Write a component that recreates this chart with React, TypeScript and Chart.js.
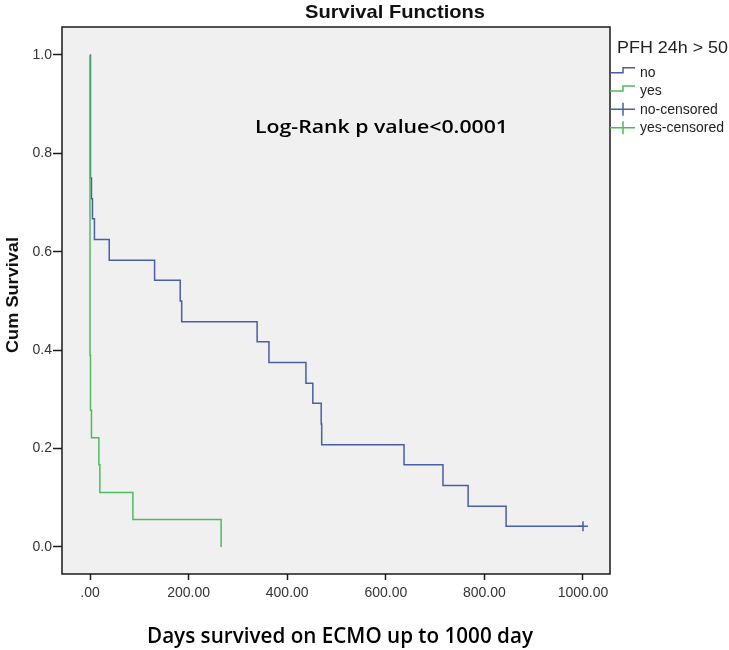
import React, { useEffect, useRef } from "react";
import { Chart, registerables } from "chart.js";

Chart.register(...registerables);

// Kaplan-Meier step data (event day, survival after that day)
const noDays = [0, 1, 3, 5, 9, 39, 131, 183, 186, 339, 363, 438, 452, 469, 470, 637, 716, 767, 844, 1000];
const noSurv = [1, 0.75, 0.708, 0.667, 0.625, 0.583, 0.542, 0.5, 0.458, 0.417, 0.375, 0.333, 0.292, 0.25, 0.208, 0.167, 0.125, 0.083, 0.042, 0.042];
const yesDays = [0, 0, 1, 3, 18, 20, 87, 266];
const yesSurv = [1, 0.389, 0.278, 0.222, 0.167, 0.111, 0.056, 0];
const noCensoredDays = [1000];
const noCensoredSurv = [0.042];

const xTicks = [0, 200, 400, 600, 800, 1000];
const xTickLabels = [".00", "200.00", "400.00", "600.00", "800.00", "1000.00"];
const yTicks = [0, 0.2, 0.4, 0.6, 0.8, 1.0];
const yTickLabels = ["0.0", "0.2", "0.4", "0.6", "0.8", "1.0"];

const legendTitle = "PFH 24h > 50";
const legendLabels = ["no", "yes", "no-censored", "yes-censored"];

const BLUE = "#4b5ca8";
const GREEN = "#4dbb5f";

function fitText(ctx: CanvasRenderingContext2D, text: string, x: number, y: number, width: number, align: "left" | "center") {
  const w = ctx.measureText(text).width;
  const s = width / w;
  ctx.save();
  ctx.translate(x, y);
  ctx.scale(s, 1);
  ctx.textAlign = align;
  ctx.fillText(text, 0, 0);
  ctx.restore();
}

const decorPlugin = {
  id: "decor",
  beforeDraw(chart: any) {
    const { ctx, chartArea } = chart;
    ctx.save();
    ctx.fillStyle = "#ffffff";
    ctx.fillRect(0, 0, chart.width, chart.height);
    ctx.fillStyle = "#f0f0f0";
    ctx.fillRect(chartArea.left, chartArea.top, chartArea.right - chartArea.left, chartArea.bottom - chartArea.top);
    ctx.restore();
  },
  afterDraw(chart: any) {
    const { ctx, chartArea } = chart;
    ctx.save();
    // plot border
    ctx.strokeStyle = "#1a1a1a";
    ctx.lineWidth = 1.5;
    ctx.strokeRect(chartArea.left, chartArea.top, chartArea.right - chartArea.left, chartArea.bottom - chartArea.top);

    ctx.fillStyle = "#111111";
    ctx.textBaseline = "alphabetic";
    // title
    ctx.font = "bold 19px 'Liberation Sans', Arial, sans-serif";
    fitText(ctx, "Survival Functions", 395, 18, 180, "center");

    // y title
    ctx.save();
    ctx.translate(18, 295);
    ctx.rotate(-Math.PI / 2);
    ctx.font = "bold 17px 'Liberation Sans', Arial, sans-serif";
    fitText(ctx, "Cum Survival", 0, 0, 116, "center");
    ctx.restore();

    // x title
    ctx.fillStyle = "#000000";
    ctx.font = "600 22px 'Open Sans', Lato, sans-serif";
    fitText(ctx, "Days survived on ECMO up to 1000 day", 340, 643, 386, "center");

    // annotation
    ctx.font = "600 18px 'Open Sans', Lato, sans-serif";
    fitText(ctx, "Log-Rank p value<0.0001", 381.5, 133, 253, "center");

    // legend
    ctx.font = "16px 'Liberation Sans', Arial, sans-serif";
    ctx.fillStyle = "#222222";
    fitText(ctx, legendTitle, 617, 53, 111, "left");
    ctx.font = "14px 'Liberation Sans', Arial, sans-serif";
    const baselines = [76.7, 95, 113.5, 132];
    const colors = [BLUE, GREEN, BLUE, GREEN];
    legendLabels.forEach((lab, i) => {
      ctx.fillStyle = "#222222";
      ctx.textAlign = "left";
      ctx.fillText(lab, 640, baselines[i]);
      ctx.strokeStyle = colors[i];
      ctx.lineWidth = 1.5;
      ctx.beginPath();
      if (i < 2) {
        const low = baselines[i] - 4;
        const high = low - 5;
        ctx.moveTo(610, low);
        ctx.lineTo(623, low);
        ctx.lineTo(623, high);
        ctx.lineTo(635, high);
      } else {
        const yy = baselines[i] - 4.2;
        ctx.moveTo(610, yy);
        ctx.lineTo(635, yy);
        ctx.moveTo(623, yy - 6.5);
        ctx.lineTo(623, yy + 6.5);
      }
      ctx.stroke();
    });
    ctx.restore();
  },
};

export default function App() {
  const ref = useRef<HTMLCanvasElement | null>(null);

  useEffect(() => {
    if (!ref.current) return;
    const chart = new Chart(ref.current, {
      type: "line",
      data: {
        datasets: [
          {
            label: "yes",
            data: yesDays.map((d, i) => ({ x: d, y: yesSurv[i] })),
            borderColor: GREEN,
            borderWidth: 1.5,
            stepped: "before",
            pointRadius: 0,
            fill: false,
            order: 0,
          },
          {
            label: "no-censored",
            data: noCensoredDays.map((d, i) => ({ x: d, y: noCensoredSurv[i] })),
            borderColor: BLUE,
            borderWidth: 1.5,
            showLine: false,
            pointStyle: "cross",
            pointRadius: 5,
            pointBorderColor: BLUE,
            pointBorderWidth: 1.5,
            order: 1,
          },
          {
            label: "no",
            data: noDays.map((d, i) => ({ x: d, y: noSurv[i] })),
            borderColor: BLUE,
            borderWidth: 1.5,
            stepped: "before",
            pointRadius: 0,
            fill: false,
            order: 2,
          },
        ],
      },
      options: {
        animation: false,
        responsive: false,
        layout: { padding: { left: 0, top: 27, right: 119, bottom: 0 } },
        plugins: {
          legend: { display: false },
          title: { display: false },
          tooltip: { enabled: false },
        },
        scales: {
          x: {
            type: "linear",
            min: -56.8,
            max: 1054.8,
            afterBuildTicks: (s: any) => {
              s.ticks = xTicks.map((v) => ({ value: v }));
            },
            afterFit: (s: any) => {
              s.height = 76;
            },
            ticks: {
              autoSkip: false,
              maxRotation: 0,
              minRotation: 0,
              padding: 5,
              color: "#333333",
              font: { family: "'Liberation Sans', Arial, sans-serif", size: 14 },
              callback: (v: any) => {
                const i = xTicks.indexOf(Number(v));
                return i >= 0 ? xTickLabels[i] : "";
              },
            },
            grid: {
              display: true,
              drawOnChartArea: false,
              drawTicks: true,
              tickLength: 6,
              tickColor: "#1a1a1a",
              tickWidth: 1.5,
              color: "#1a1a1a",
            },
            border: { display: false },
          },
          y: {
            type: "linear",
            min: -0.0549,
            max: 1.0569,
            afterBuildTicks: (s: any) => {
              s.ticks = yTicks.map((v) => ({ value: v }));
            },
            afterFit: (s: any) => {
              s.width = 62;
            },
            ticks: {
              autoSkip: false,
              padding: 1,
              color: "#333333",
              font: { family: "'Liberation Sans', Arial, sans-serif", size: 14 },
              callback: (v: any) => {
                const i = yTicks.findIndex((t) => Math.abs(t - Number(v)) < 1e-6);
                return i >= 0 ? yTickLabels[i] : "";
              },
            },
            grid: {
              display: true,
              drawOnChartArea: false,
              drawTicks: true,
              tickLength: 9,
              tickColor: "#1a1a1a",
              tickWidth: 1.5,
              color: "#1a1a1a",
            },
            border: { display: false },
          },
        },
      },
      plugins: [decorPlugin],
    } as any);
    return () => chart.destroy();
  }, []);

  return (
    <div style={{ position: "fixed", left: 0, top: 0, width: 729, height: 650, background: "#fff" }}>
      <canvas ref={ref} width={729} height={650} style={{ display: "block", width: 729, height: 650 }} />
    </div>
  );
}
